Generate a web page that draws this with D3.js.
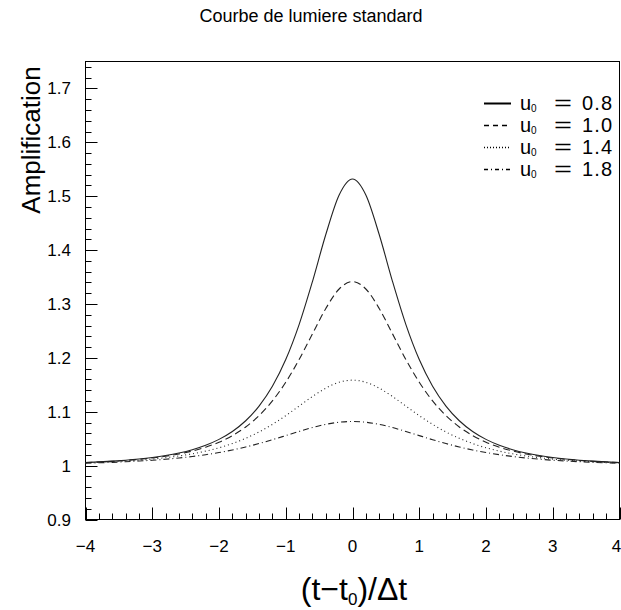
<!DOCTYPE html>
<html><head><meta charset="utf-8">
<script src="https://cdn.jsdelivr.net/npm/d3@7/dist/d3.min.js"></script>
<style>body{margin:0;background:#fff}svg{display:block}text{font-family:"Liberation Sans",Arial,Helvetica,sans-serif;fill:#000}</style>
</head><body><svg id="c" width="621" height="610"></svg>
<script>
const title = "Courbe de lumiere standard";
const xLabel = "(t−t₀)/Δt";
const yLabel = "Amplification";
const xTickLabels = ["−4","−3","−2","−1","0","1","2","3","4"];
const yTickLabels = ["0.9","1","1.1","1.2","1.3","1.4","1.5","1.6","1.7"];
const seriesNames = ["0.8","1.0","1.4","1.8"];
const tValues = [-4.0,-3.8,-3.6,-3.4,-3.2,-3.0,-2.8,-2.6,-2.4,-2.2,-2.0,-1.8,-1.6,-1.4,-1.2,-1.0,-0.8,-0.6,-0.4,-0.2,0.0,
  0.2,0.4,0.6,0.8,1.0,1.2,1.4,1.6,1.8,2.0,2.2,2.4,2.6,2.8,3.0,3.2,3.4,3.6,3.8,4.0];
const ampU08 = [1.0058,1.0069,1.0083,1.0101,1.0123,1.0151,1.0187,1.0234,1.0296,1.0378,1.0487,1.0634,1.0833,1.1105,1.1473,1.1968,1.2617,1.3416,1.4289,1.5023,1.5320,
  1.5023,1.4289,1.3416,1.2617,1.1968,1.1473,1.1105,1.0833,1.0634,1.0487,1.0378,1.0296,1.0234,1.0187,1.0151,1.0123,1.0101,1.0083,1.0069,1.0058];
const ampU10 = [1.0056,1.0066,1.0079,1.0096,1.0116,1.0142,1.0175,1.0217,1.0271,1.0342,1.0435,1.0557,1.0717,1.0928,1.1201,1.1547,1.1968,1.2445,1.2916,1.3278,1.3416,
  1.3278,1.2916,1.2445,1.1968,1.1547,1.1201,1.0928,1.0717,1.0557,1.0435,1.0342,1.0271,1.0217,1.0175,1.0142,1.0116,1.0096,1.0079,1.0066,1.0056];
const ampU14 = [1.0051,1.0060,1.0071,1.0084,1.0101,1.0121,1.0147,1.0179,1.0219,1.0269,1.0331,1.0410,1.0507,1.0625,1.0766,1.0928,1.1105,1.1282,1.1438,1.1547,1.1586,
  1.1547,1.1438,1.1282,1.1105,1.0928,1.0766,1.0625,1.0507,1.0410,1.0331,1.0269,1.0219,1.0179,1.0147,1.0121,1.0101,1.0084,1.0071,1.0060,1.0051];
const ampU18 = [1.0045,1.0052,1.0061,1.0072,1.0085,1.0100,1.0119,1.0142,1.0169,1.0203,1.0243,1.0290,1.0346,1.0410,1.0481,1.0557,1.0634,1.0706,1.0766,1.0805,1.0819,
  1.0805,1.0766,1.0706,1.0634,1.0557,1.0481,1.0410,1.0346,1.0290,1.0243,1.0203,1.0169,1.0142,1.0119,1.0100,1.0085,1.0072,1.0061,1.0052,1.0045];
const series = [ampU08, ampU10, ampU14, ampU18];
const dashes = [null, "7,4", "1,3", "6,3,1,3"];
const legDashes = [null, "5,4", "1,2", "4,3,1,3"];

const svg = d3.select("#c");
const L = 85.5, R = 619.5, T = 61.5, B = 519.5;
const x = d3.scaleLinear().domain([-4,4]).range([L,R]);
const y = d3.scaleLinear().domain([0.9,1.75]).range([B,T]);

// frame
svg.append("rect").attr("x",L).attr("y",T).attr("width",R-L).attr("height",B-T)
  .attr("fill","none").attr("stroke","#000").attr("stroke-width",1);

// x axis ticks (inward)
const xMinor = d3.range(-4,4.0001,0.2);
svg.append("g").selectAll("line").data(xMinor).join("line")
  .attr("x1",d=>Math.round(x(d))+0.5).attr("x2",d=>Math.round(x(d))+0.5)
  .attr("y1",B).attr("y2",d=>Math.abs(d-Math.round(d))<1e-6?B-12:B-6)
  .attr("stroke","#000");
svg.append("g").selectAll("text").data(xTickLabels).join("text")
  .attr("x",(d,i)=>i===8?x(4)-3:x(i-4)).attr("y",552).attr("text-anchor","middle")
  .attr("font-size",17).text(d=>d);

// y axis ticks (inward)
const yMinor = d3.range(0.9,1.7501,0.02);
svg.append("g").selectAll("line").data(yMinor).join("line")
  .attr("y1",d=>Math.round(y(d))+0.5).attr("y2",d=>Math.round(y(d))+0.5)
  .attr("x1",L).attr("x2",(d,i)=>i%5===0?L+12:L+6)
  .attr("stroke","#000");
svg.append("g").selectAll("text").data(yTickLabels).join("text")
  .attr("x",71).attr("y",(d,i)=>y(0.9+i*0.1)+6).attr("text-anchor","end")
  .attr("font-size",17).text(d=>d);

// curves
const line = d3.line().x((d,i)=>x(tValues[i])).y(d=>y(d)).curve(d3.curveMonotoneX);
series.forEach((s,k)=>{
  svg.append("path").attr("d",line(s)).attr("fill","none").attr("stroke","#222")
    .attr("stroke-width",1.1).attr("stroke-dasharray",dashes[k]);
});

// legend
const legY = [103,125,147,169];
seriesNames.forEach((n,k)=>{
  svg.append("line").attr("x1",484).attr("x2",511).attr("y1",legY[k]+0.5).attr("y2",legY[k]+0.5)
    .attr("stroke","#000").attr("stroke-width",k===0?2:1.3).attr("stroke-dasharray",legDashes[k]);
  const t = svg.append("text").attr("y",legY[k]+7).attr("font-size",20);
  t.append("tspan").attr("x",520).text("u");
  t.append("tspan").attr("x",531).attr("dy",2).attr("font-size",10).text("0");
  t.append("tspan").attr("x",554).attr("dy",-2).attr("textLength",18).attr("lengthAdjust","spacingAndGlyphs").text("=");
  t.append("tspan").attr("x",582).attr("letter-spacing",1.2).text(n);
});

// titles
svg.append("text").attr("x",311).attr("y",22).attr("text-anchor","middle").attr("font-size",18).text(title);
svg.append("text").attr("transform","translate(40,140) rotate(-90)").attr("text-anchor","middle")
  .attr("font-size",26).text(yLabel);
const xl = svg.append("text").attr("x",354).attr("y",600).attr("text-anchor","middle").attr("font-size",32);
xl.append("tspan").text("(t−t");
xl.append("tspan").attr("font-size",17).attr("dy",5).text("0");
xl.append("tspan").attr("dy",-5).text(")/Δt");
</script></body></html>
